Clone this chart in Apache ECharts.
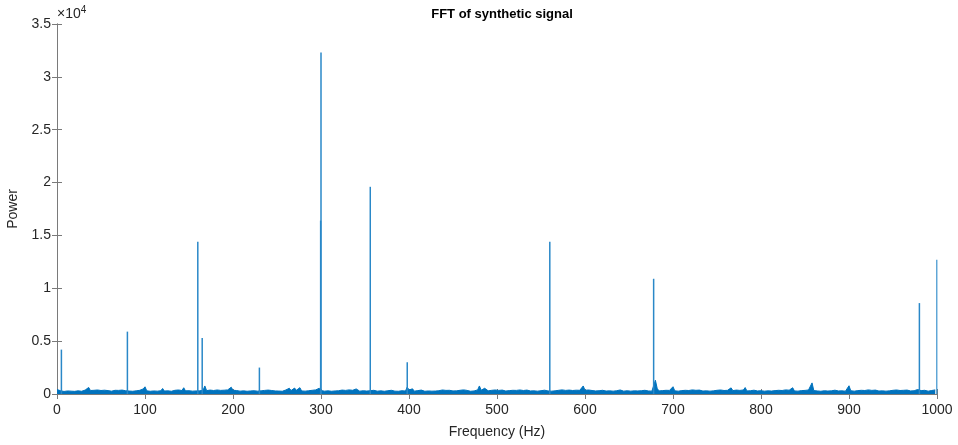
<!DOCTYPE html>
<html>
<head>
<meta charset="utf-8">
<script src="https://cdn.jsdelivr.net/npm/echarts@6/dist/echarts.min.js"></script>
<style>html,body{margin:0;padding:0;background:#fff}#c{width:958px;height:445px}</style>
</head>
<body>
<div id="c"></div>
<script>
const noiseStep = 2;
const noise = [
420,260,310,380,240,330,290,360,270,320,250,390,300,340,260,310,370,280,620,330,260,350,290,380,270,
330,280,360,250,320,390,270,300,350,260,340,290,370,250,310,360,280,330,260,380,300,270,350,320,480,
680,300,350,260,380,290,330,270,360,310,520,280,340,300,370,260,320,350,290,380,270,330,590,300,340,
310,360,270,340,290,380,300,260,350,760,320,290,370,260,330,300,380,280,340,270,360,310,390,290,640,
350,290,330,380,270,340,300,360,260,320,290,390,310,350,270,380,300,260,340,310,370,280,330,360,290,
340,280,370,260,320,380,300,540,330,270,560,350,310,600,290,340,270,380,310,260,350,300,390,280,540,
330,370,270,340,300,380,260,320,290,360,310,280,370,260,340,300,390,270,350,290,480,330,270,360,310,
340,280,370,310,260,350,320,270,380,300,340,260,390,310,280,350,330,270,370,260,340,310,390,280,660,
380,300,490,270,350,320,280,370,310,260,350,290,380,270,330,280,360,310,270,380,300,340,260,350,320,
290,370,300,260,350,320,390,280,340,300,260,370,290,330,390,760,360,310,540,380,300,270,350,320,380,
300,340,270,370,310,280,390,320,260,350,300,340,280,380,300,330,270,370,320,290,350,300,390,270,340,
310,270,360,320,290,380,270,340,300,260,350,320,390,290,340,270,370,300,330,280,360,310,350,290,760,
350,300,380,270,330,320,290,370,310,260,350,330,280,390,300,340,270,360,310,290,380,330,270,350,310,
330,270,370,300,340,290,390,310,260,350,330,290,380,270,340,1300,540,290,360,320,270,350,300,340,380,
690,300,350,270,370,320,290,350,260,330,310,390,290,350,270,370,320,280,360,300,340,270,380,300,330,
350,290,380,270,330,300,350,260,580,320,290,370,300,340,270,380,610,290,350,310,270,360,330,290,390,
310,350,270,360,300,340,280,380,320,260,350,300,330,290,390,270,360,310,590,290,340,270,370,320,290,
340,300,380,270,1050,320,350,290,370,260,330,310,390,280,350,300,270,360,330,290,380,300,340,270,370,
780,310,340,270,370,320,290,350,260,330,310,390,290,340,270,370,320,280,360,300,340,270,380,300,330,
350,290,380,270,330,300,350,260,370,320,290,400,310,340,420,380,320,450,350,310,270,400,330,290,390
];
// Spectral peaks (Hz, power)
const peakFreqs  = [5,    80,   160,   165,  230,  299.6, 300,   356,   398,  560,   678,   980,  1000];
const peakPowers = [4200, 5900, 14400, 5300, 2500, 16400, 32300, 19600, 3000, 14400, 10900, 8600, 12700];
const xTicks = [0,100,200,300,400,500,600,700,800,900,1000];
const yTickLabels = ['0','0.5','1','1.5','2','2.5','3','3.5'];

const noiseData = noise.map((v, i) => [i * noiseStep, v]);
const peakData = peakFreqs.map((f, i) => [f, peakPowers[i]]);

const font = 'Liberation Sans, Arial, sans-serif';
const axisCol = '#7a7a7a';
const txtCol = '#262626';
const lineCol = '#0072BD';

const chart = echarts.init(document.getElementById('c'), null, {renderer: 'canvas'});
chart.setOption({
  animation: false,
  backgroundColor: '#fff',
  title: {
    text: 'FFT of synthetic signal',
    left: 497, top: 3, textAlign: 'center',
    textStyle: {fontFamily: font, fontSize: 13, fontWeight: 'bold', color: '#000'}
  },
  graphic: [{
    type: 'text', left: 57, top: 5,
    style: {
      text: '×10{s|4}',
      font: '14px ' + font,
      fill: txtCol,
      rich: {s: {fontSize: 10, fontFamily: font, verticalAlign: 'top', padding: [0, 0, 8, 0]}}
    }
  }],
  grid: {left: 57, right: 21, top: 24, bottom: 51, outerBoundsMode: 'none', containLabel: false},
  xAxis: [{
    type: 'value', min: 0, max: 1000, interval: 100,
    name: 'Frequency (Hz)', nameLocation: 'middle', nameGap: 31,
    nameTextStyle: {fontFamily: font, fontSize: 14, color: txtCol},
    axisLine: {show: true, lineStyle: {color: axisCol, width: 1}},
    axisTick: {show: true, inside: true, length: 5, lineStyle: {color: axisCol}},
    axisLabel: {fontFamily: font, fontSize: 14, color: txtCol, margin: 9,
      formatter: v => xTicks.indexOf(v) >= 0 ? String(v) : ''},
    splitLine: {show: false}
  }, {
    type: 'value', position: 'top', min: 0, max: 1000, interval: 100,
    axisLine: {show: true, lineStyle: {color: axisCol, width: 1}},
    axisTick: {show: true, inside: true, length: 5, lineStyle: {color: axisCol}},
    axisLabel: {show: false}, splitLine: {show: false}
  }],
  yAxis: [{
    type: 'value', min: 0, max: 35000, interval: 5000,
    name: 'Power', nameLocation: 'middle', nameGap: 33, nameRotate: 90,
    nameTextStyle: {fontFamily: font, fontSize: 14, color: txtCol},
    axisLine: {show: true, lineStyle: {color: axisCol, width: 1}},
    axisTick: {show: true, inside: true, length: 5, lineStyle: {color: axisCol}},
    axisLabel: {fontFamily: font, fontSize: 14, color: txtCol, margin: 6,
      formatter: v => yTickLabels[Math.round(v / 5000)]},
    splitLine: {show: false}
  }, {
    type: 'value', position: 'right', min: 0, max: 35000, interval: 5000,
    axisLine: {show: true, lineStyle: {color: axisCol, width: 1}},
    axisTick: {show: true, inside: true, length: 5, lineStyle: {color: axisCol}},
    axisLabel: {show: false}, splitLine: {show: false}
  }],
  series: [{
    type: 'line', xAxisIndex: 0, yAxisIndex: 0,
    data: noiseData, showSymbol: false, symbol: 'none',
    lineStyle: {color: lineCol, width: 1},
    areaStyle: {color: lineCol, opacity: 1, origin: 'start'},
    z: 3
  }, {
    type: 'bar', xAxisIndex: 0, yAxisIndex: 0,
    data: peakData, barWidth: 1.5, barGap: '-100%',
    itemStyle: {color: '#2a88c8'},
    z: 4
  }]
});
</script>
</body>
</html>
